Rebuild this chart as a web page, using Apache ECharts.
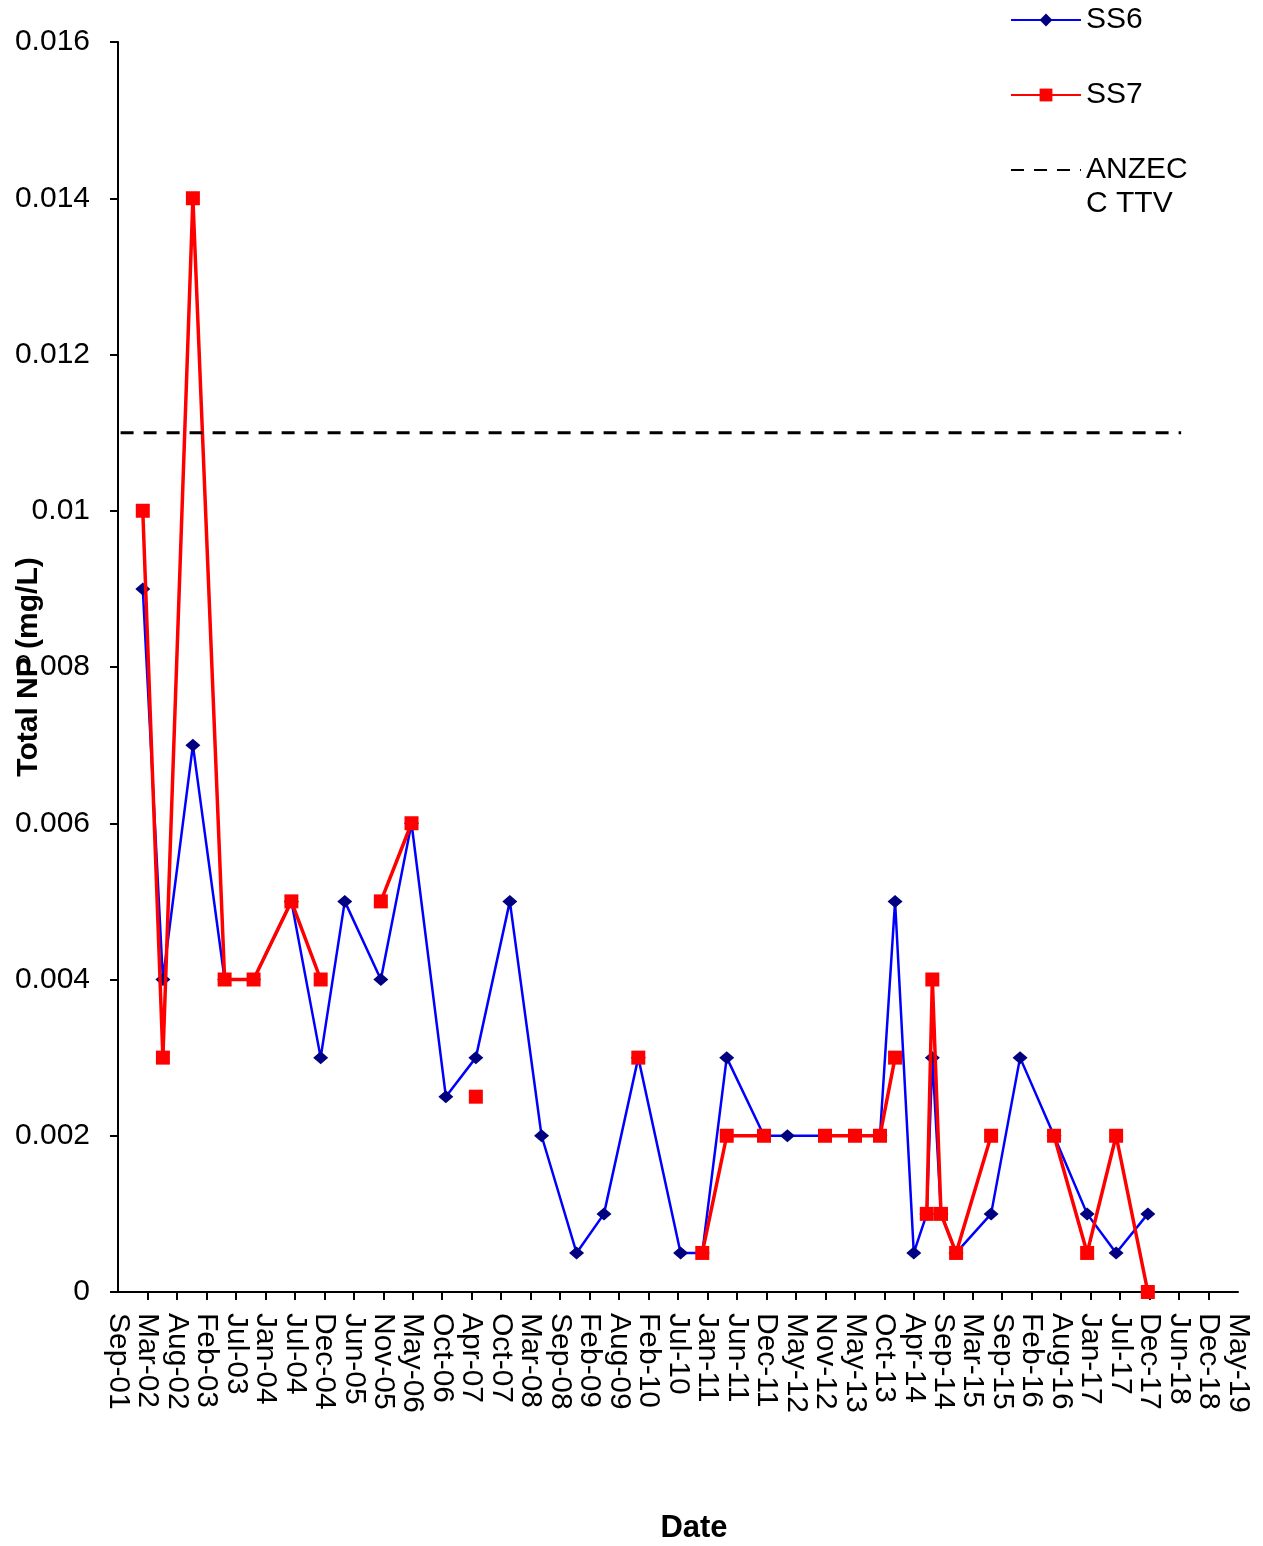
<!DOCTYPE html>
<html>
<head>
<meta charset="utf-8">
<script src="https://cdn.jsdelivr.net/npm/echarts@6/dist/echarts.min.js"></script>
<style>
  html, body { margin: 0; padding: 0; background: #fff; }
  #chart { width: 1263px; height: 1546px; }
</style>
</head>
<body>
<div id="chart"></div>
<script>
// ---- Data ----
const sampleDates = [
  '2002-02-06','2002-06-02','2002-11-22','2003-05-24','2003-11-07','2004-06-12','2004-11-28',
  '2005-04-16','2005-11-10','2006-05-06','2006-11-20','2007-05-12','2007-11-24','2008-05-25',
  '2008-12-13','2009-05-20','2009-12-04','2010-08-05','2010-12-08','2011-04-28','2011-11-29',
  '2012-04-12','2012-11-15','2013-05-07','2013-09-28','2013-12-24','2014-04-11','2014-06-25',
  '2014-07-27','2014-09-15','2014-12-11','2015-07-01','2015-12-15','2016-06-28','2017-01-05',
  '2017-06-21','2017-12-21'
];
const ss6Values = [
  0.009, 0.004, 0.007, 0.004, 0.004, 0.005, 0.003,
  0.005, 0.004, 0.006, 0.0025, 0.003, 0.005, 0.002,
  0.0005, 0.001, 0.003, 0.0005, 0.0005, 0.003, 0.002,
  0.002, 0.002, 0.002, 0.002, 0.005, 0.0005, 0.001,
  0.003, 0.001, 0.0005, 0.001, 0.003, 0.002, 0.001,
  0.0005, 0.001
];
const ss7Values = [
  0.010, 0.003, 0.014, 0.004, 0.004, 0.005, 0.004,
  null, 0.005, 0.006, null, 0.0025, null, null,
  null, null, 0.003, null, 0.0005, 0.002, 0.002,
  null, 0.002, 0.002, 0.002, 0.003, null, 0.001,
  0.004, 0.001, 0.0005, 0.002, null, 0.002, 0.0005,
  0.002, 0
];
const ttvDates = ['2001-10-01', '2018-07-01'];
const ttvValues = [0.011, 0.011];
const seriesNames = ['SS6', 'SS7', 'ANZECC TTV'];
const yTicks = { min: 0, max: 0.016, step: 0.002 };
// x axis: first tick label date and spacing between tick labels (days)
const axisStartDate = '2001-09-16';
const axisTickDays = 170;
const axisTickCount = 38;

// ---- helpers ----
const MONTHS = ['Jan','Feb','Mar','Apr','May','Jun','Jul','Aug','Sep','Oct','Nov','Dec'];
function utc(s) { const p = s.split('-').map(Number); return Date.UTC(p[0], p[1] - 1, p[2]); }
const AXIS_START = utc(axisStartDate);
function dayOffset(s) { return (utc(s) - AXIS_START) / 86400000; }
function fmtDate(v) {
  const d = new Date(AXIS_START + v * 86400000);
  return MONTHS[d.getUTCMonth()] + '-' + String(d.getUTCFullYear() % 100).padStart(2, '0');
}
function pairs(dates, vals) { return dates.map((d, i) => [dayOffset(d), vals[i] === null ? null : vals[i]]); }

const FONT = "'Liberation Sans', Arial, sans-serif";
const X_MAX = axisTickDays * axisTickCount;
const chart = echarts.init(document.getElementById('chart'), null, { renderer: 'canvas' });

const legendBase = {
  orient: 'vertical', left: 1010, padding: 0, itemWidth: 70, itemHeight: 16,
  selectedMode: false,
  textStyle: { fontFamily: FONT, fontSize: 30, color: '#000', lineHeight: 34 }
};
const xLabelStyle = {
  rotate: -90, margin: 21, interval: 0, hideOverlap: false,
  fontFamily: FONT, fontSize: 30, color: '#000',
  formatter: fmtDate
};

chart.setOption({
  backgroundColor: '#fff',
  animation: false,
  grid: { left: 118, right: 25, top: 42, bottom: 254, containLabel: false, outerBoundsMode: 'none' },
  legend: [
    Object.assign({}, legendBase, { top: 3, data: [seriesNames[0]] }),
    Object.assign({}, legendBase, { top: 78, data: [seriesNames[1]] }),
    Object.assign({}, legendBase, {
      top: 119,
      data: [{ name: seriesNames[2], itemStyle: { color: 'rgba(0,0,0,0)', borderWidth: 0 } }],
      formatter: () => ' \nANZEC\nC TTV'
    })
  ],
  xAxis: [
    {
      type: 'value', position: 'bottom',
      min: 0, max: X_MAX, interval: axisTickDays,
      name: 'Date', nameLocation: 'middle', nameGap: 221, nameMoveOverlap: false,
      nameTextStyle: { fontFamily: FONT, fontSize: 31, fontWeight: 'bold', color: '#000', padding: [0, 0, 0, 32] },
      axisLine: { show: true, onZero: false, lineStyle: { color: '#000', width: 2 } },
      axisTick: { show: true, inside: false, length: 8, lineStyle: { color: '#000', width: 2 } },
      splitLine: { show: false },
      axisLabel: Object.assign({}, xLabelStyle, { showMinLabel: false, showMaxLabel: false })
    },
    {
      // carries only the first and last date labels
      type: 'value', position: 'bottom', offset: 0,
      min: 0, max: X_MAX, interval: X_MAX,
      axisLine: { show: false, onZero: false },
      axisTick: { show: false },
      splitLine: { show: false },
      axisLabel: Object.assign({}, xLabelStyle, { showMinLabel: true, showMaxLabel: true })
    }
  ],
  yAxis: {
    type: 'value',
    min: yTicks.min, max: yTicks.max, interval: yTicks.step,
    name: 'Total NP (mg/L)', nameLocation: 'middle', nameGap: 74, nameRotate: 90, nameMoveOverlap: false,
    nameTextStyle: { fontFamily: FONT, fontSize: 30, fontWeight: 'bold', color: '#000' },
    axisLine: { show: true, lineStyle: { color: '#000', width: 2 } },
    axisTick: { show: true, inside: false, length: 8, lineStyle: { color: '#000', width: 2 } },
    splitLine: { show: false },
    axisLabel: { margin: 28, showMinLabel: true, showMaxLabel: true, fontFamily: FONT, fontSize: 30, color: '#000' }
  },
  series: [
    {
      name: seriesNames[0], type: 'line', xAxisIndex: 0,
      data: pairs(sampleDates, ss6Values),
      symbol: 'diamond', symbolSize: [15, 13], showSymbol: true,
      connectNulls: false,
      lineStyle: { color: '#0000ff', width: 2.5 },
      itemStyle: { color: '#000080', borderWidth: 0 },
      z: 2
    },
    {
      name: seriesNames[1], type: 'line', xAxisIndex: 0,
      data: pairs(sampleDates, ss7Values),
      symbol: 'rect', symbolSize: 14, showSymbol: true,
      connectNulls: false,
      lineStyle: { color: '#ff0000', width: 3.5 },
      itemStyle: { color: '#ff0000', borderWidth: 0 },
      z: 3
    },
    {
      name: seriesNames[2], type: 'line', xAxisIndex: 0,
      data: pairs(ttvDates, ttvValues),
      symbol: 'none', showSymbol: false,
      lineStyle: { color: '#000', width: 3, type: [13, 10] },
      itemStyle: { color: '#000' },
      z: 4
    }
  ]
});
</script>
</body>
</html>
